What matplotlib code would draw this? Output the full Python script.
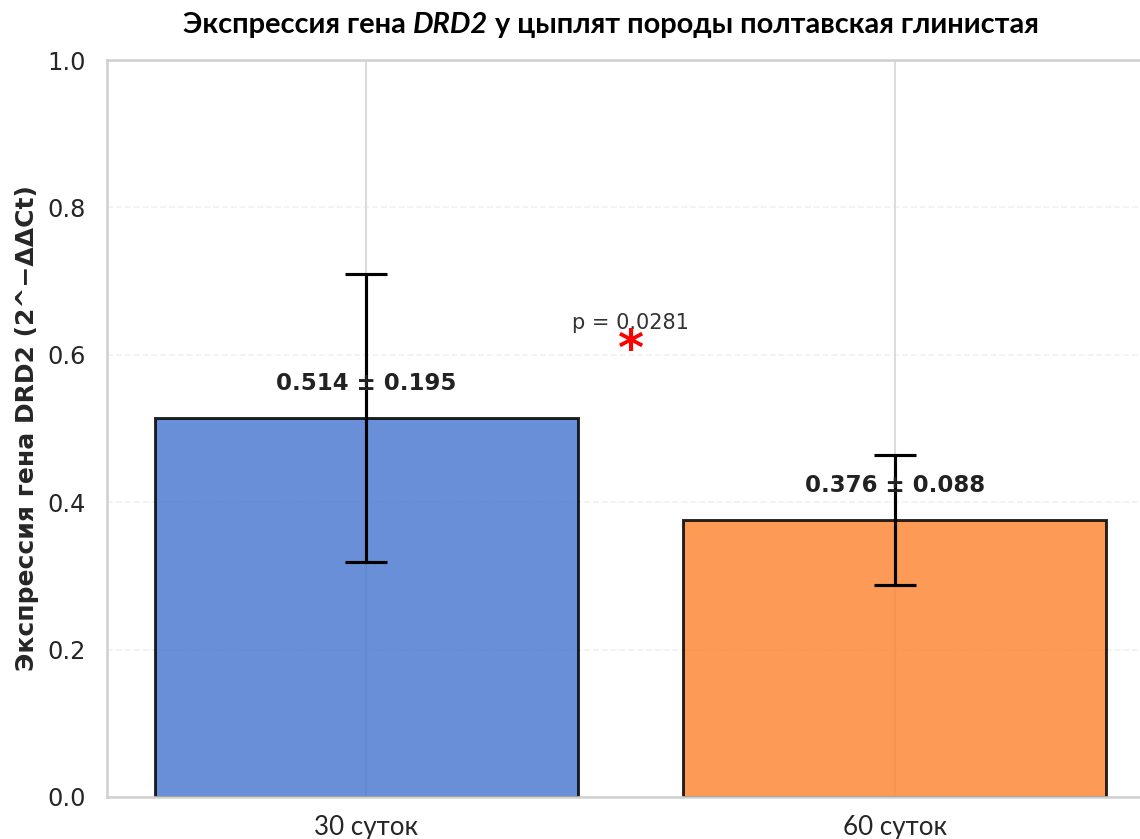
import matplotlib
matplotlib.use("Agg")
import matplotlib.pyplot as plt

# Data
groups = ["30 суток", "60 суток"]
means = [0.514, 0.376]
sems = [0.195, 0.088]
p_value = 0.0281
bar_colors = ["#4d7cd1", "#fc8838"]
title_parts = [("Экспрессия гена ", "normal"), ("DRD2", "italic"),
               (" у цыплят породы полтавская глинистая", "normal")]
ylabel = "Экспрессия гена DRD2 (2^−ΔΔCt)"
yticks = [0.0, 0.2, 0.4, 0.6, 0.8, 1.0]

head_font = ["Lato", "DejaVu Sans"]
plt.rcParams["font.family"] = ["DejaVu Sans"]

W, H, DPI = 1140, 839, 150
fig = plt.figure(figsize=(W / DPI, H / DPI), dpi=DPI)
ax = fig.add_axes([107 / W, 1 - 797 / H, 1047 / W, 737 / H])

x = list(range(len(groups)))
ax.set_axisbelow(True)
ax.bar(x, means, width=0.8, color=bar_colors, alpha=0.85,
       edgecolor="black", linewidth=1.4,
       yerr=sems, capsize=10,
       error_kw=dict(elinewidth=1.5, capthick=1.5, ecolor="black"))

for xi, m, s in zip(x, means, sems):
    ax.text(xi, m + 0.047, f"{m:.3f} ± {s:.3f}", ha="center", va="center",
            fontsize=11, fontweight="bold", color="#222222")

mid = (x[0] + x[1]) / 2
ax.text(mid, 0.643, f"p = {p_value:.4f}", ha="center", va="center",
        fontsize=10, color="#333333")
ax.text(mid, 0.605, "*", ha="center", va="center", fontsize=24,
        fontweight="bold", color="red")

ax.set_xlim(-0.49, 1.49)
ax.set_ylim(0, 1.0)
ax.set_yticks(yticks)
ax.set_yticklabels([f"{t:.1f}" for t in yticks], family="DejaVu Sans")
ax.set_xticks(x)
ax.set_xticklabels(groups, family=head_font, fontsize=12.5)

ax.tick_params(axis="y", length=0, pad=10, labelsize=11.5, labelcolor="#262626")
ax.tick_params(axis="x", length=0, pad=8.5, labelcolor="#262626")

ax.grid(axis="x", color="#dcdcdc", linewidth=1.0, linestyle="-")
ax.grid(axis="y", color="#dcdcdc", linewidth=0.8, linestyle="--", alpha=0.4)
for sp in ax.spines.values():
    sp.set_color("#d0d0d0")
    sp.set_linewidth(1.2)

fig.text(27 / W, 0.5 * ((1 - 797 / H) + (1 - 60 / H)), ylabel,
         rotation=90, ha="center", va="center", fontsize=12,
         fontweight="bold", color="#262626")

# Title assembled from pieces so the gene name can be italic
renderer = fig.canvas.get_renderer()
pieces = []
for txt, style in title_parts:
    t = fig.text(0, 1 - 25 / H, txt, ha="left", va="center", fontsize=13.9,
                 fontweight="bold", style=style, family=head_font,
                 color="black")
    pieces.append(t)
widths = [p.get_window_extent(renderer).width for p in pieces]
cursor = 611 - sum(widths) / 2
for p, w in zip(pieces, widths):
    p.set_x(cursor / W)
    cursor += w

fig.savefig("out.png", dpi=DPI)
